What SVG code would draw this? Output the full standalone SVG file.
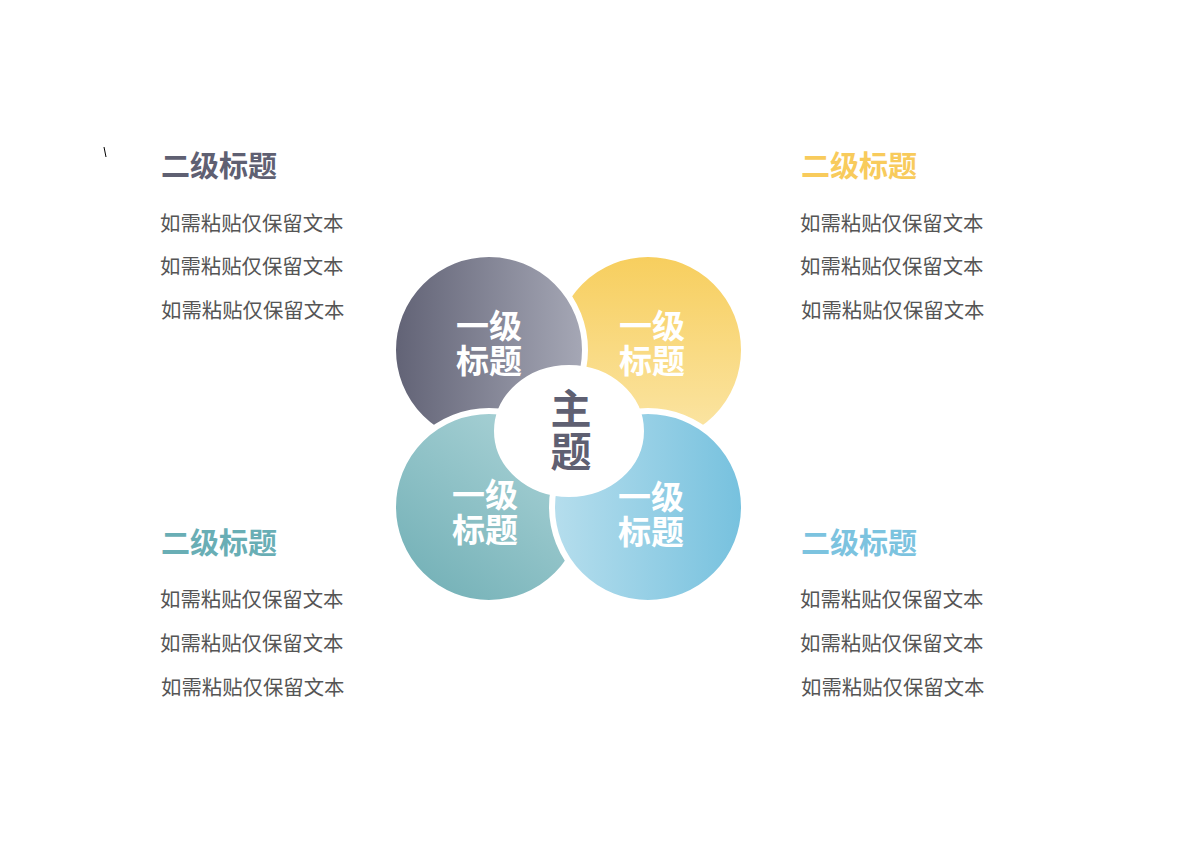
<svg xmlns="http://www.w3.org/2000/svg" width="1200" height="848" viewBox="0 0 1200 848">
<defs>
<linearGradient id="gTL" x1="0" y1="0" x2="1" y2="0"><stop offset="0" stop-color="#616275"/><stop offset="1" stop-color="#A6A8B6"/></linearGradient>
<linearGradient id="gTR" x1="0" y1="0" x2="0" y2="1"><stop offset="0" stop-color="#F7CE5D"/><stop offset="1" stop-color="#FBE6A8"/></linearGradient>
<linearGradient id="gBL" x1="0.15" y1="0.95" x2="0.85" y2="0.05"><stop offset="0" stop-color="#74B1B7"/><stop offset="1" stop-color="#ABD3D7"/></linearGradient>
<linearGradient id="gBR" x1="0" y1="0" x2="1" y2="0"><stop offset="0" stop-color="#B6DEED"/><stop offset="1" stop-color="#76C1DE"/></linearGradient>
<style>
.petal{stroke:#FFFFFF;stroke-width:6}
.pt{font-family:"Noto Sans CJK SC","Noto Sans",sans-serif;font-weight:bold;font-size:33px;fill:#FFFFFF;text-anchor:middle}
.h2{font-family:"Noto Sans CJK SC","Noto Sans",sans-serif;font-weight:bold;font-size:29px}
.body{font-family:"Noto Sans CJK SC","Noto Sans",sans-serif;font-size:20.4px;fill:#555555}
.main{font-family:"Noto Sans CJK SC","Noto Sans",sans-serif;font-weight:bold;font-size:41px;fill:#5F6072;text-anchor:middle}
</style>
</defs>
<rect width="1200" height="848" fill="#FFFFFF"/>
<path d="M104,147 L105,152 L106,157" fill="none" stroke="#000000" stroke-width="1"/>
<g id="connectors"></g>
<g id="node-tr">
<circle class="petal" cx="648" cy="350" r="96" fill="url(#gTR)"/>
<text class="pt"><tspan x="652" y="338">一级</tspan><tspan x="652" y="373">标题</tspan></text>
</g>
<g id="node-tl">
<circle class="petal" cx="489" cy="350" r="96" fill="url(#gTL)"/>
<text class="pt"><tspan x="489" y="338">一级</tspan><tspan x="489" y="373">标题</tspan></text>
</g>
<g id="node-bl">
<circle class="petal" cx="489" cy="507" r="96" fill="url(#gBL)"/>
<text class="pt"><tspan x="485" y="507">一级</tspan><tspan x="485" y="542">标题</tspan></text>
</g>
<g id="node-br">
<circle class="petal" cx="648" cy="507" r="96" fill="url(#gBR)"/>
<text class="pt"><tspan x="651" y="509">一级</tspan><tspan x="651" y="544">标题</tspan></text>
</g>
<g id="node-center">
<ellipse cx="569" cy="431" rx="73" ry="64" fill="#FFFFFF" stroke="#FFFFFF" stroke-width="4"/>
<text class="main"><tspan x="571" y="424">主</tspan><tspan x="571" y="467">题</tspan></text>
</g>
<g id="text-tl">
<text class="h2" x="161" y="177" fill="#5F6072">二级标题</text>
<text class="body" x="160" y="231">如需粘贴仅保留文本</text>
<text class="body" x="160" y="274">如需粘贴仅保留文本</text>
<text class="body" x="161" y="318">如需粘贴仅保留文本</text>
</g>
<g id="text-tr">
<text class="h2" x="801" y="177" fill="#F8CB5C">二级标题</text>
<text class="body" x="800" y="231">如需粘贴仅保留文本</text>
<text class="body" x="800" y="274">如需粘贴仅保留文本</text>
<text class="body" x="801" y="318">如需粘贴仅保留文本</text>
</g>
<g id="text-bl">
<text class="h2" x="161" y="554" fill="#69AEB5">二级标题</text>
<text class="body" x="160" y="607">如需粘贴仅保留文本</text>
<text class="body" x="160" y="651">如需粘贴仅保留文本</text>
<text class="body" x="161" y="695">如需粘贴仅保留文本</text>
</g>
<g id="text-br">
<text class="h2" x="801" y="554" fill="#7CC3DF">二级标题</text>
<text class="body" x="800" y="607">如需粘贴仅保留文本</text>
<text class="body" x="800" y="651">如需粘贴仅保留文本</text>
<text class="body" x="801" y="695">如需粘贴仅保留文本</text>
</g>
</svg>
